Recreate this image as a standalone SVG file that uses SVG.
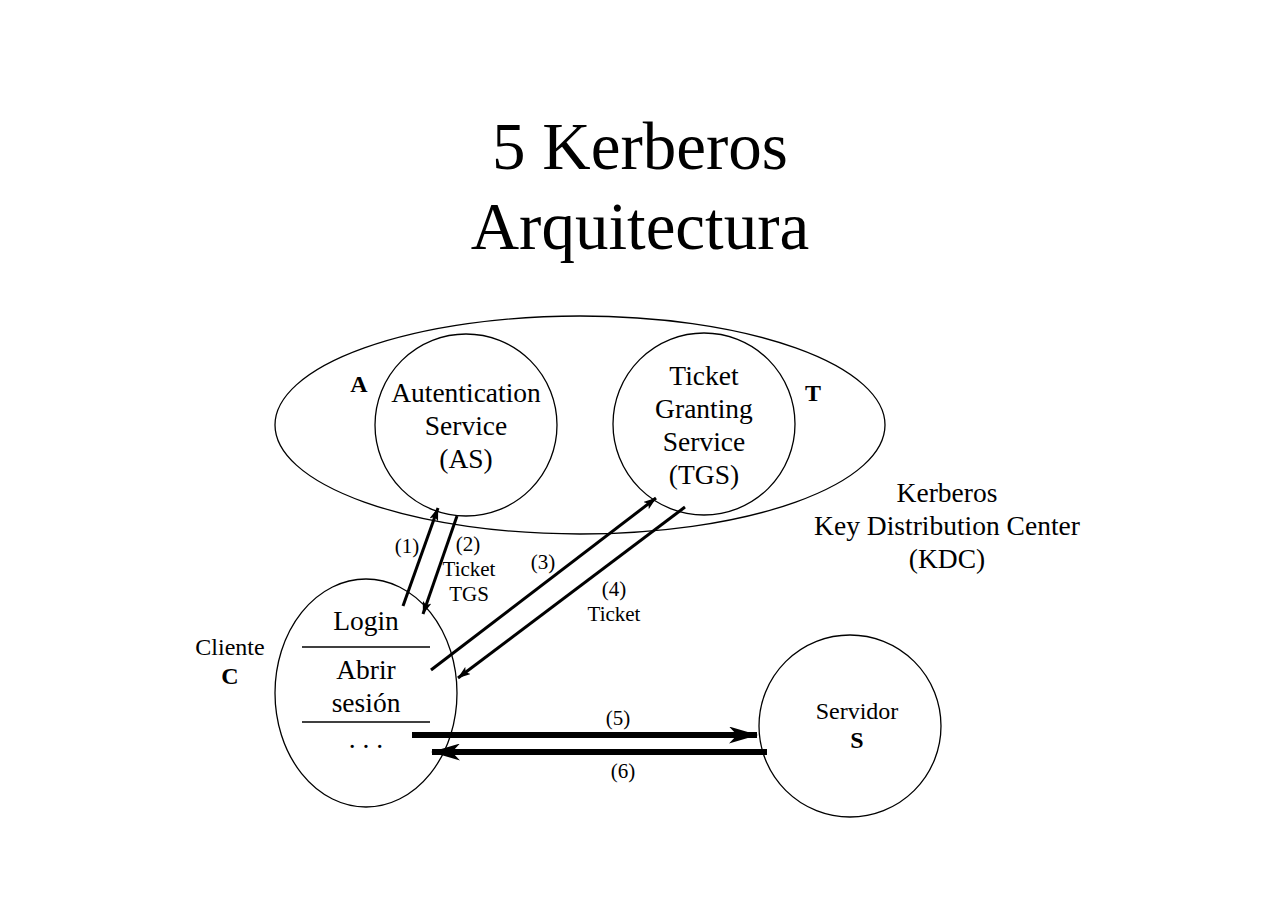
<svg xmlns="http://www.w3.org/2000/svg" width="1280" height="905" viewBox="0 0 1280 905">
<style>
text{font-family:"Liberation Serif","Times New Roman",serif;fill:#000;text-anchor:middle}
.t{font-size:67px}
.n{font-size:27.5px}
.s{font-size:24px}
.l{font-size:21px}
.b{font-weight:bold}
.shape{fill:none;stroke:#000;stroke-width:1.3}
.c{stroke:#000;stroke-width:3;fill:none}
.k{stroke:#000;stroke-width:6;fill:none}
</style>
<defs>
<marker id="ah" viewBox="0 0 13 9" refX="12.5" refY="4.5" markerWidth="13" markerHeight="9" orient="auto" markerUnits="userSpaceOnUse">
<path d="M0,0 L13,4.5 L0,9 L3,4.5 Z" fill="#000"/>
</marker>
<marker id="ahk" viewBox="0 0 29 17" refX="28" refY="8.5" markerWidth="29" markerHeight="17" orient="auto" markerUnits="userSpaceOnUse">
<path d="M0,0 L29,8.5 L0,17 L8,8.5 Z" fill="#000"/>
</marker>
</defs>
<rect width="1280" height="905" fill="#fff"/>
<g id="title">
<text class="t" x="640" y="169">5 Kerberos</text>
<text class="t" x="640" y="249">Arquitectura</text>
</g>
<g id="kdc">
<ellipse class="shape" cx="580" cy="425" rx="305" ry="109"/>
<text class="n" x="947" y="502">Kerberos</text>
<text class="n" x="947" y="535">Key Distribution Center</text>
<text class="n" x="947" y="568">(KDC)</text>
</g>
<g id="as">
<circle class="shape" cx="466" cy="425" r="91"/>
<text class="n" x="466" y="402">Autentication</text>
<text class="n" x="466" y="435">Service</text>
<text class="n" x="466" y="468">(AS)</text>
<text class="s b" x="359" y="392">A</text>
</g>
<g id="tgs">
<circle class="shape" cx="704" cy="424" r="91"/>
<text class="n" x="704" y="385">Ticket</text>
<text class="n" x="704" y="418">Granting</text>
<text class="n" x="704" y="451">Service</text>
<text class="n" x="704" y="484">(TGS)</text>
<text class="s b" x="813" y="401">T</text>
</g>
<g id="client">
<ellipse class="shape" cx="366" cy="693" rx="91" ry="114"/>
<line class="shape" x1="302" y1="647" x2="430" y2="647"/>
<line class="shape" x1="302" y1="722" x2="430" y2="722"/>
<text class="n" x="366" y="630">Login</text>
<text class="n" x="366" y="679">Abrir</text>
<text class="n" x="366" y="712">sesión</text>
<text class="n" x="366" y="748">. . .</text>
<text class="s" x="230" y="655">Cliente</text>
<text class="s b" x="230" y="684">C</text>
</g>
<g id="server">
<circle class="shape" cx="850" cy="726" r="91"/>
<text class="s" x="857" y="719">Servidor</text>
<text class="s b" x="857" y="748">S</text>
</g>
<g id="connectors">
<line class="c" x1="403" y1="606" x2="438" y2="508" marker-end="url(#ah)"/>
<line class="c" x1="457" y1="516" x2="423" y2="614" marker-end="url(#ah)"/>
<line class="c" x1="431" y1="670" x2="656" y2="498" marker-end="url(#ah)"/>
<line class="c" x1="685" y1="507" x2="458" y2="678" marker-end="url(#ah)"/>
<line class="k" x1="412" y1="735" x2="757" y2="735" marker-end="url(#ahk)"/>
<line class="k" x1="767" y1="752" x2="432" y2="752" marker-end="url(#ahk)"/>
</g>
<g id="labels">
<text class="l" x="407" y="553">(1)</text>
<text class="l" x="468" y="551">(2)</text>
<text class="l" x="469" y="576">Ticket</text>
<text class="l" x="469" y="601">TGS</text>
<text class="l" x="543" y="569">(3)</text>
<text class="l" x="614" y="596">(4)</text>
<text class="l" x="614" y="621">Ticket</text>
<text class="l" x="618" y="725">(5)</text>
<text class="l" x="623" y="778">(6)</text>
</g>
</svg>
